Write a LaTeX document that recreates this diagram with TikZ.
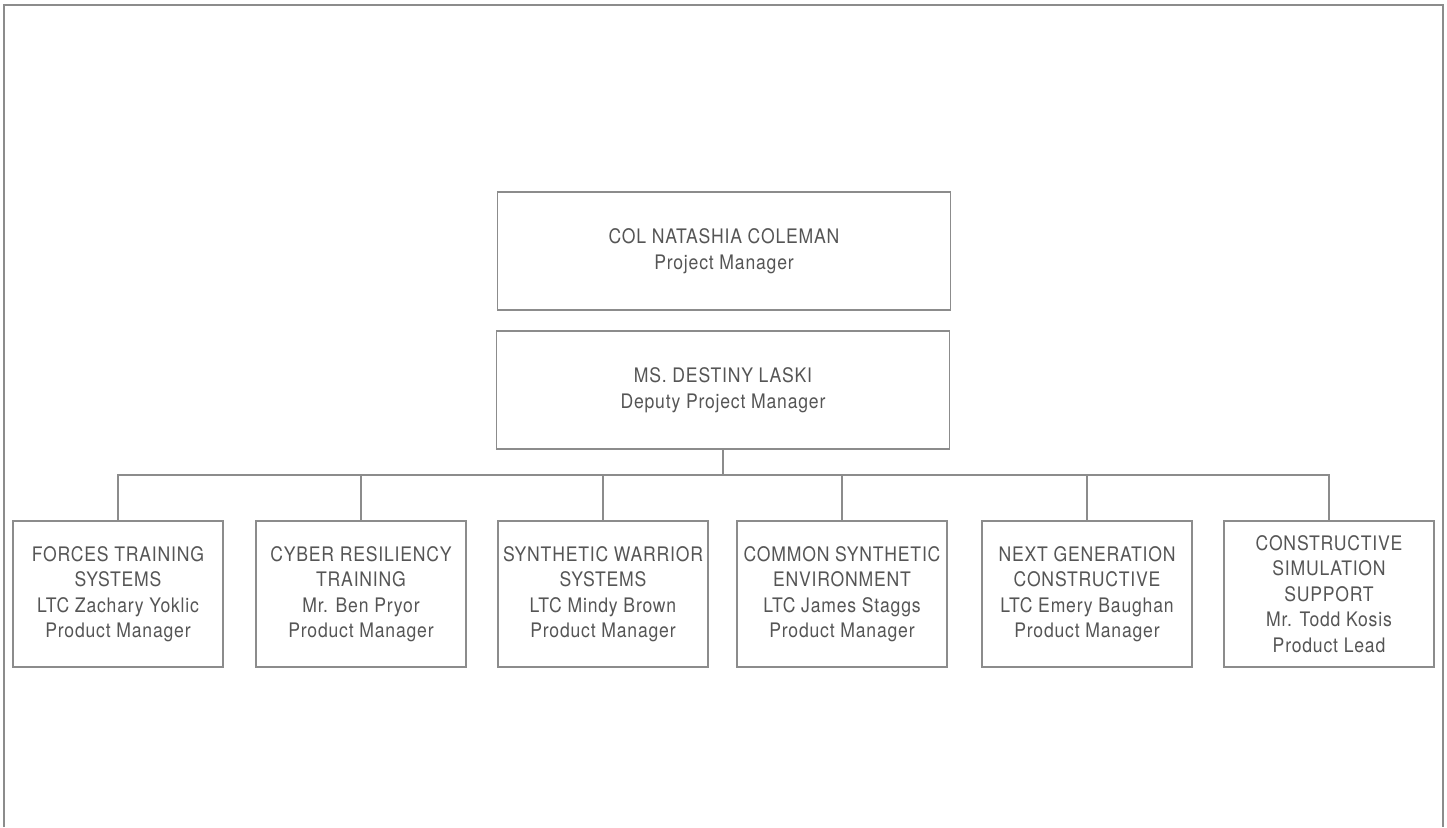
\documentclass[tikz,border=0pt]{standalone}
\usepackage{fontspec}
\setmainfont{TeX Gyre Heros}[FakeStretch=0.88,LetterSpace=4]
\definecolor{linegray}{HTML}{8C8C8C}
\definecolor{textgray}{HTML}{555555}
\tikzset{
  orgbox/.style={draw=linegray,line width=1.3pt,rectangle,inner sep=0pt,
    align=center,text=textgray,font=\fontsize{20}{25.5}\selectfont},
  headbox/.style={orgbox,minimum width=453pt,minimum height=118pt},
  unitbox/.style={orgbox,minimum width=210pt,minimum height=146pt},
  link/.style={draw=linegray,line width=1.3pt}
}
\begin{document}
\begin{tikzpicture}[x=1pt,y=-1pt]
      \useasboundingbox (0,0) rectangle (1447,827);
      \draw[linegray,line width=2pt] (4,827) -- (4,5) -- (1443,5) -- (1443,827);
      \draw
        (724,251) node[headbox] (pm){COL NATASHIA COLEMAN\\Project Manager}
        (723,390) node[headbox] (dpm){MS. DESTINY LASKI\\Deputy Project Manager}
        (118,594) node[unitbox] (0){FORCES TRAINING\\SYSTEMS\\LTC Zachary Yoklic\\Product Manager}
        (361,594) node[unitbox] (1){CYBER RESILIENCY\\TRAINING\\Mr. Ben Pryor\\Product Manager}
        (603,594) node[unitbox] (2){SYNTHETIC WARRIOR\\SYSTEMS\\LTC Mindy Brown\\Product Manager}
        (842,594) node[unitbox] (3){COMMON SYNTHETIC\\ENVIRONMENT\\LTC James Staggs\\Product Manager}
        (1087,594) node[unitbox] (4){NEXT GENERATION\\CONSTRUCTIVE\\LTC Emery Baughan\\Product Manager}
        (1329,594) node[unitbox] (5){CONSTRUCTIVE\\SIMULATION\\SUPPORT\\Mr. Todd Kosis\\Product Lead};
      \coordinate (bus) at (723,475);
      \begin{scope}[link]
        \draw (dpm.south) -- (bus);
        \draw (0.north) |- (bus);
        \draw (1.north) |- (bus);
        \draw (2.north) |- (bus);
        \draw (3.north) |- (bus);
        \draw (4.north) |- (bus);
        \draw (5.north) |- (bus);
      \end{scope}
    \end{tikzpicture}
\end{document}
